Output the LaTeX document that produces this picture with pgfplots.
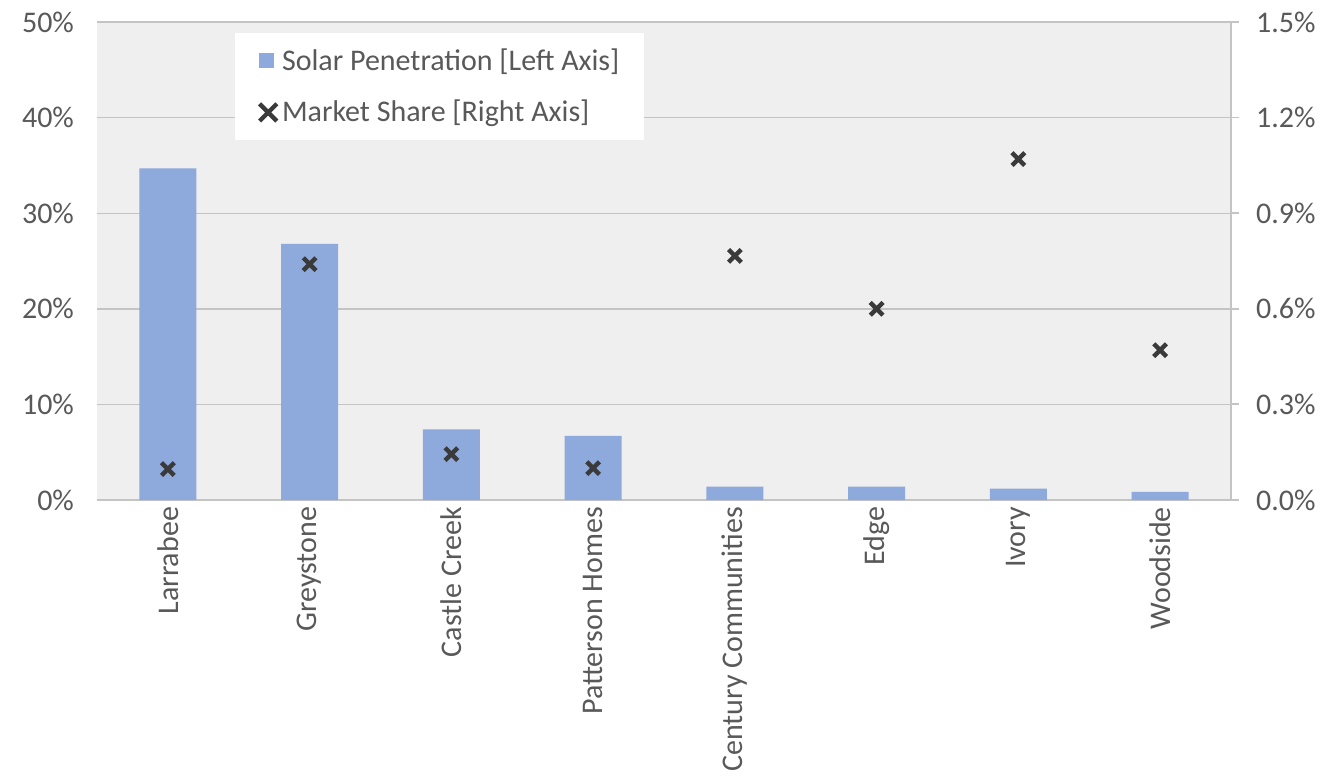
\documentclass[border=0pt]{standalone}
\usepackage{fontspec}
\setmainfont{Carlito}
\usepackage{pgfplots}
\pgfplotsset{compat=1.18}
\definecolor{barc}{HTML}{8EA9DB}
\definecolor{txt}{HTML}{595959}
\definecolor{gridc}{HTML}{C4C4C4}
\definecolor{bgc}{HTML}{EFEFEF}
\definecolor{mk}{HTML}{3A3A3A}
\begin{document}
\begin{tikzpicture}[x=1pt,y=1pt]
\useasboundingbox (0,0) rectangle (663,391);
\begin{axis}[
  at={(48.5pt,141pt)}, anchor=south west,
  scale only axis, width=567pt, height=239pt,
  xmin=-0.5, xmax=7.5, ymin=0, ymax=50,
  axis background/.style={fill=bgc},
  axis x line*=bottom, axis y line*=left,
  x axis line style={draw=gridc, line width=0.9pt, -},
  y axis line style={draw=none},
  xtick={0,1,2,3,4,5,6,7},
  xticklabels={Larrabee,Greystone,Castle Creek,Patterson Homes,Century Communities,Edge,Ivory,Woodside},
  xticklabel style={rotate=90, anchor=east, font=\fontsize{15}{17}\selectfont, text=txt, xshift=0pt},
  major tick length=0pt,
  ytick={0,10,20,30,40,50},
  yticklabels={0\%,10\%,20\%,30\%,40\%,50\%},
  yticklabel style={font=\fontsize{15}{17}\selectfont, text=txt, xshift=-8pt},
  ymajorgrids, grid style={draw=gridc, line width=0.7pt},
  ybar, bar width=28.5pt,
]
\addplot[fill=barc, draw=none] coordinates {
  (0,34.7) (1,26.8) (2,7.4) (3,6.7) (4,1.4) (5,1.4) (6,1.2) (7,0.85)
};
\end{axis}
\begin{axis}[
  at={(48.5pt,141pt)}, anchor=south west,
  scale only axis, width=567pt, height=239pt,
  xmin=-0.5, xmax=7.5, ymin=0, ymax=1.5,
  axis x line=none, axis y line*=right,
  y axis line style={draw=gridc, line width=0.9pt, -},
  ytick={0,0.3,0.6,0.9,1.2,1.5},
  yticklabels={0.0\%,0.3\%,0.6\%,0.9\%,1.2\%,1.5\%},
  yticklabel style={font=\fontsize{15}{17}\selectfont, text=txt, xshift=5pt},
  major tick length=4pt, tick align=outside,
  tick style={draw=gridc, line width=0.9pt},
  legend style={at={(0.1217,0.977)}, anchor=north west, draw=none, fill=white,
    font=\fontsize{15}{17}\selectfont, text=txt,
    inner xsep=11pt, inner ysep=6pt, row sep=10.5pt, nodes={inner sep=1.5pt}},
  legend cell align=left,
]
\addlegendimage{legend image code/.code={\fill[barc] (0pt,-3.5pt) rectangle (7pt,3.5pt);}}
\addlegendentry{Solar Penetration [Left Axis]}
\addplot[only marks, mark=x, mark size=4.5pt, mark options={draw=mk, line width=2.2pt},
  legend image code/.code={\draw[mk, line width=2.2pt] (0pt,-4.3pt) -- (8.6pt,4.3pt) (0pt,4.3pt) -- (8.6pt,-4.3pt);}]
  coordinates {
  (0,0.097) (1,0.74) (2,0.144) (3,0.10) (4,0.766) (5,0.60) (6,1.07) (7,0.47)
};
\addlegendentry{Market Share [Right Axis]}
\end{axis}
\end{tikzpicture}
\end{document}
